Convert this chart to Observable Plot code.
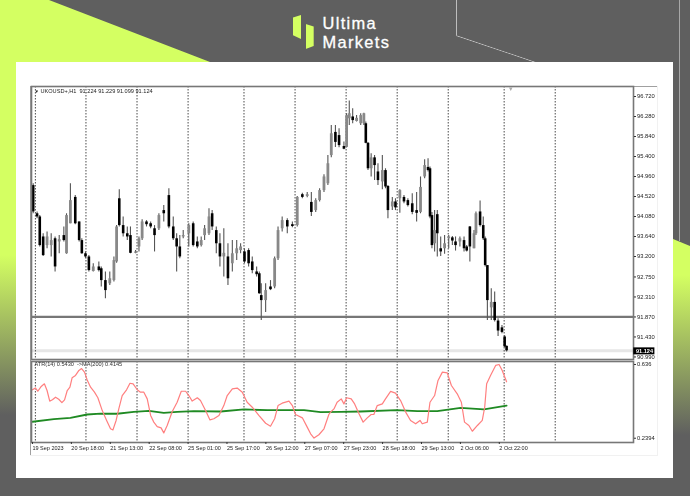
<!DOCTYPE html>
<html>
<head>
<meta charset="utf-8">
<script src="https://cdn.jsdelivr.net/npm/d3@7"></script>
<script src="https://cdn.jsdelivr.net/npm/@observablehq/plot@0.6"></script>
<style>
html,body{margin:0;padding:0;background:#5f5f5f;overflow:hidden}
#page{position:relative;width:690px;height:496px;overflow:hidden;background:#5f5f5f}
#page>div{position:absolute}
#leftLime{left:0;top:0;width:210px;height:496px;background:linear-gradient(to bottom,#d4ff62 0,#d4ff62 255px,#5f5f5f 415px);clip-path:polygon(0 0,49px 0,210px 62px,16px 62px,16px 496px,0 496px)}
#rightLime{left:673px;top:230px;width:17px;height:266px;background:linear-gradient(to bottom,#d4ff62 0,#d4ff62 45px,#5f5f5f 205px);clip-path:polygon(0 9px,17px 16px,17px 266px,0 266px)}
#card{left:16px;top:62px;width:657px;height:416px;background:#fff}
#lineV{left:455.5px;top:0;width:1px;height:35px;background:#bdbdbd}
#lineD{left:456px;top:35px;width:86px;height:1px;background:#c8c8c8;transform-origin:0 0;transform:rotate(18.6deg);clip-path:inset(0)}
#lineR{left:678.5px;top:0;width:1.5px;height:241px;background:#a8a8a8}
#logoA{left:293px;top:15px;width:8px;height:24px;background:#d4ff62;clip-path:polygon(0 10%,100% 0,100% 100%,0 84%)}
#logoB{left:305.7px;top:24px;width:8px;height:25px;background:#d4ff62;clip-path:polygon(0 0,100% 10%,100% 88%,0 100%)}
.brand{color:#fff;font-family:'Liberation Sans',Arial,sans-serif;font-size:16.4px;line-height:18.9px;letter-spacing:1.35px;-webkit-text-stroke:.3px #fff;left:322.5px;white-space:nowrap}
#brand1{top:14.2px}
#brand2{top:33.1px}
#outerTop{left:30px;top:86px;width:627px;height:1px;background:#a0a0a0}
#outerLeft{left:30px;top:86px;width:1px;height:369px;background:#a0a0a0}
#outerRight{left:657px;top:86px;width:1px;height:369px;background:#f1f1f1}
#outerBottom{left:30px;top:455px;width:628px;height:1px;background:#f1f1f1}
#plots{left:0;top:0;width:690px;height:496px;filter:blur(.5px)}
#plots svg{position:absolute;left:0;top:0;background:transparent;overflow:visible}
</style>
</head>
<body>
<div id="page">
<div id="leftLime"></div><div id="rightLime"></div><div id="lineV"></div><div id="lineD"></div><div id="lineR"></div><div id="card"></div>
<div id="logoA"></div><div id="logoB"></div>
<div class="brand" id="brand1">Ultima</div><div class="brand" id="brand2">Markets</div>
<div id="outerTop"></div><div id="outerLeft"></div><div id="outerRight"></div><div id="outerBottom"></div>
<div id="plots"></div>
</div>
<script>
const bars=[0.3,1.9,3.0,4.4,6.0,7.7,9.3,11.0,12.9,14.0,15.6,17.6,19.2,20.3,21.8,23.2,25.0,27.3,28.3,30.0,31.8,33.5,34.6,35.7,37.3,39.0,40.3,42.4,43.8,45.1,46.9,48.6,50.2,52.0,54.0,56.1,57.9,59.3,60.6,62.0,64.3,66.1,67.8,69.4,70.8,72.6,73.9,75.6,77.1,78.7,80.4,82.2,84.0,85.6,87.2,88.9,90.4,92.2,93.3,94.1,95.9,97.9,99.6,101.0,102.7,104.8,106.9,108.9,111.0,113.0,114.7,116.5,118.1,119.9,121.5,122.9,124.6,126.1,128.1,129.2,130.3,131.7,133.3,135.0,136.3,137.1,138.0,139.3,140.7,142.1,143.9,145.2,146.2,148.0,149.3,151.1,152.8,154.4,156.2,158.0,159.6,161.3,162.7,163.5,164.3,165.4,166.5,167.9,169.5,171.2,172.7,174.0,175.8,177.5,178.6,179.9,181.6,182.4,184.1,185.4,186.2,187.1,188.7,190.1,191.5,193.1,194.2,195.0];
const highs=[94.80,94.18,94.10,93.70,93.74,93.70,93.63,93.66,93.85,94.14,94.80,94.54,93.96,93.59,93.30,93.22,93.04,93.08,92.97,92.86,92.86,93.19,93.88,94.67,94.07,93.85,93.85,93.33,93.63,94.01,93.99,93.96,93.88,94.14,94.32,94.69,94.07,93.70,93.66,93.77,93.92,93.96,93.63,93.63,93.88,94.25,94.21,93.85,93.70,93.81,93.48,93.55,93.55,93.48,93.37,93.37,93.19,92.97,92.86,92.60,92.60,92.67,93.19,93.85,94.07,94.03,93.96,94.52,94.59,94.61,94.61,94.47,94.69,95.00,95.42,96.08,96.08,96.01,95.72,96.34,96.62,96.45,96.30,96.34,96.35,96.16,95.71,95.46,95.42,95.24,95.42,95.13,94.76,94.50,94.47,94.67,94.54,94.47,94.58,94.61,94.95,95.33,95.35,95.17,94.17,94.21,94.21,93.63,93.66,93.66,93.64,93.63,93.63,93.63,93.44,93.86,93.77,94.18,94.42,94.07,93.63,93.00,92.49,92.42,91.83,91.68,91.46,91.229];
const lows=[94.14,94.03,93.41,93.20,93.37,93.19,92.86,93.26,93.52,93.25,93.92,93.90,93.52,93.25,93.15,92.86,92.86,92.86,92.53,92.27,92.56,92.64,93.05,93.85,93.63,93.55,93.26,93.26,93.30,93.55,93.85,93.81,93.30,93.77,93.96,93.81,93.55,92.86,93.15,93.59,93.41,93.41,93.37,93.41,93.55,93.66,93.77,93.26,92.97,92.75,92.56,92.86,93.11,93.26,93.04,92.97,92.82,92.75,92.37,91.79,91.97,92.45,92.49,93.11,93.74,93.70,93.83,93.85,94.47,94.49,94.08,94.17,94.40,94.61,94.76,95.37,95.60,95.59,95.55,95.59,96.08,96.12,96.16,96.08,96.08,95.68,95.09,94.95,94.87,94.76,94.67,94.69,94.03,94.21,94.21,94.15,94.36,94.29,94.12,93.96,94.14,94.91,95.06,94.03,93.37,93.30,93.19,93.20,93.25,93.37,93.44,93.32,93.41,93.30,93.30,93.08,93.37,93.66,93.85,93.55,92.97,91.79,91.79,91.76,91.44,91.50,91.19,91.099];
const opens=[94.76,94.14,94.07,93.63,93.44,93.44,93.59,93.52,93.66,93.26,93.92,94.50,93.96,93.55,93.26,93.19,92.87,92.97,92.93,92.67,92.60,92.67,93.08,94.47,93.88,93.70,93.66,93.27,93.41,93.59,93.96,93.92,93.81,93.81,94.21,94.54,93.85,93.59,93.41,93.63,93.70,93.92,93.52,93.44,93.66,93.70,94.14,93.77,93.48,93.19,93.19,93.04,93.26,93.33,93.30,93.33,93.08,92.86,92.82,92.34,92.23,92.53,92.53,93.15,93.81,93.99,93.90,93.88,94.56,94.52,94.39,94.21,94.43,94.65,94.80,95.42,95.93,95.86,95.62,95.60,96.23,96.27,96.17,96.12,96.12,96.12,95.69,95.13,95.37,95.06,94.84,95.09,94.74,94.29,94.40,94.47,94.50,94.43,94.36,94.21,94.17,94.95,95.16,95.13,94.10,93.48,94.12,93.37,93.37,93.59,93.61,93.52,93.52,93.55,93.41,93.85,93.37,93.70,94.18,93.88,93.59,93.00,92.07,92.19,91.78,91.63,91.43,91.224];
const closes=[94.18,94.07,93.44,93.22,93.63,93.55,92.97,93.57,93.55,94.10,94.43,93.92,93.55,93.26,93.19,92.89,92.97,92.89,92.67,92.45,92.71,93.11,93.85,93.88,93.70,93.63,93.27,93.30,93.59,93.96,93.90,93.85,93.66,94.10,94.14,93.85,93.59,93.41,93.19,93.66,93.88,93.44,93.41,93.55,93.81,94.07,93.85,93.48,93.19,93.27,92.71,93.26,93.37,93.41,93.08,93.04,92.89,92.80,92.38,92.23,92.45,92.47,93.15,93.77,93.99,93.85,93.86,94.50,94.50,94.56,94.17,94.43,94.65,94.95,95.24,95.90,95.71,95.64,95.56,96.30,96.34,96.19,96.24,96.30,96.34,95.69,95.13,95.37,95.20,94.87,95.09,94.73,94.21,94.40,94.27,94.65,94.40,94.32,94.17,94.15,94.72,95.20,95.09,94.07,93.44,93.77,93.70,93.30,93.48,93.63,93.54,93.44,93.59,93.37,93.32,93.41,93.70,94.14,93.88,93.59,93.00,92.23,92.19,91.79,91.56,91.53,91.21,91.124];

const atrBars=[0,1.2,2.2,3.6,4.9,6.0,7.1,8.2,9.5,10.8,12.1,13.2,14.3,15.4,16.3,17.7,19.1,20.2,21.4,22.5,23.9,25.5,26.9,28.7,30.5,32.1,33.1,34.4,35.5,36.9,38.7,40.1,41.4,43.1,44.4,45.8,47.2,48.6,49.9,51.3,52.9,54.0,55.4,57.5,59.5,61.2,63.0,64.3,65.7,67.8,69.1,71.2,73.0,74.6,76.7,78.7,80.1,82.2,84.2,86.3,88.3,90.4,93.1,95.9,97.9,99.6,101.0,102.7,105.5,106.9,108.2,111.0,113.0,114.4,115.8,117.8,119.9,121.9,122.6,124.0,125.3,127.0,128.1,129.2,131.1,132.5,134.3,136.0,137.7,139.3,140.4,141.8,143.9,145.2,147.3,149.3,151.4,153.5,155.5,157.6,159.4,160.3,162.4,163.5,165.4,166.8,168.6,170.6,172.3,174.7,176.4,177.7,179.5,180.9,183.0,185.0,186.0,186.8,188.4,190.5,191.9,193.2,195.0];
const atrValues=[.500,.510,.492,.518,.532,.496,.439,.446,.460,.449,.431,.446,.496,.514,.564,.577,.604,.614,.595,.553,.514,.487,.457,.388,.335,.290,.284,.335,.397,.469,.500,.535,.532,.500,.487,.487,.451,.362,.326,.302,.295,.268,.308,.383,.433,.492,.492,.469,.439,.457,.442,.388,.338,.344,.362,.415,.469,.505,.509,.487,.433,.406,.362,.320,.304,.344,.415,.428,.439,.415,.367,.349,.299,.263,.240,.258,.290,.367,.380,.397,.433,.451,.424,.457,.451,.424,.371,.326,.349,.367,.367,.415,.424,.451,.491,.482,.442,.380,.335,.317,.335,.317,.326,.433,.469,.550,.595,.591,.523,.478,.433,.326,.308,.277,.308,.335,.406,.532,.577,.631,.636,.604,.543];
const maBars=[0,8.8,15.6,22.5,28.0,34.8,41.7,47.9,54.0,59.5,66.4,77.4,87.0,96.6,111.7,118.5,126.7,135.0,149.8,158.3,166.5,176.1,185.7,195.0];
const maValues=[.328,.342,.349,.367,.372,.371,.381,.387,.376,.381,.385,.383,.394,.390,.390,.380,.381,.383,.390,.385,.385,.403,.394,.4145];

const gridBars=[1.2,22,43,64,87,108,129,150,171,194,215];
const timeTicks=[0,16,32,48,64,80,96,112,128,144,160,176,192];
const timeLabels=["19 Sep 2023","20 Sep 18:00","21 Sep 13:00","22 Sep 08:00","25 Sep 01:00","25 Sep 17:00","26 Sep 12:00","27 Sep 07:00","27 Sep 23:00","28 Sep 18:00","29 Sep 13:00","2 Oct 06:00","2 Oct 22:00"];
const priceTicks=[96.72,96.28,95.84,95.40,94.96,94.52,94.08,93.64,93.20,92.75,92.31,91.87,91.43,90.99];
const atrTicks=[0.636,0.2394];
const levelLine=91.87, bidLine=91.124;
const titleTop="UKOUSD+,H1  91.224 91.229 91.099 91.124";
const titleAtr="ATR(14) 0.5430  ->MA(200) 0.4145";

const xDomain=[-0.4,247.2];
const font={fontFamily:"'Liberation Sans',Arial,sans-serif",fontSize:"5.8px",background:"transparent",color:"#333"};
const candles=bars.map((b,i)=>({b,h:highs[i],l:lows[i],o:opens[i],c:closes[i]}));
const up=candles.filter(d=>d.c>=d.o), down=candles.filter(d=>d.c<d.o);

const main=Plot.plot({
  width:690,height:360,marginLeft:31,marginRight:57,marginTop:86,marginBottom:1,
  style:font,
  x:{domain:xDomain,axis:null},
  y:{domain:[90.934,96.94],axis:null},
  marks:[
    Plot.ruleY([bidLine],{stroke:"#e6e6e6",strokeWidth:3}),
    Plot.ruleX(gridBars,{stroke:"#4a4a4a",strokeWidth:1,strokeDasharray:"1.5,1.5"}),
    Plot.ruleY([levelLine],{stroke:"#777",strokeWidth:2.2}),
    Plot.ruleX(candles,{x:"b",y1:"l",y2:"h",stroke:"#555",strokeWidth:1.1}),
    Plot.ruleX(up,{x:"b",y1:"o",y2:"c",stroke:"#888",strokeWidth:2.8}),
    Plot.ruleX(down,{x:"b",y1:"o",y2:"c",stroke:"#000",strokeWidth:2.6}),
    Plot.frame({stroke:"#777",strokeWidth:1.6}),
    Plot.axisY(priceTicks,{anchor:"right",tickSize:2,tickPadding:1.5,tickFormat:d=>d.toFixed(3),label:null,fill:"#222"}),
    Plot.ruleY([bidLine],{x1:247.3,x2:256,stroke:"#000",strokeWidth:7}),
    Plot.text([bidLine.toFixed(3)],{x:248.2,y:()=>bidLine,text:d=>d,textAnchor:"start",fill:"#fff",fontWeight:700,fontSize:5.6}),
    Plot.text([titleTop],{frameAnchor:"top-left",dx:9,dy:3,fill:"#222",fontSize:5.6}),
    Plot.text(["▼"],{frameAnchor:"top-left",dx:3,dy:3.5,fill:"#222",fontSize:4.5}),
    Plot.text(["▾"],{x:197,frameAnchor:"top",dy:0,fill:"#aaa",fontSize:7})
  ]
});

const lower=Plot.plot({
  width:690,height:496,marginLeft:31,marginRight:57,marginTop:361,marginBottom:54,
  style:font,
  x:{domain:xDomain,axis:null},
  y:{domain:[0.2164,0.652],axis:null},
  marks:[
    Plot.ruleX(gridBars,{stroke:"#4a4a4a",strokeWidth:1,strokeDasharray:"1.5,1.5"}),
    Plot.line(maBars.map((b,i)=>({b,v:maValues[i]})),{x:"b",y:"v",stroke:"#1f8a23",strokeWidth:1.8}),
    Plot.line(atrBars.map((b,i)=>({b,v:atrValues[i]})),{x:"b",y:"v",stroke:"#ff7f7f",strokeWidth:1.2}),
    Plot.frame({stroke:"#777",strokeWidth:1.6}),
    Plot.axisY(atrTicks,{anchor:"right",tickSize:2,tickPadding:1.5,tickFormat:d=>String(d),label:null,fill:"#222"}),
    Plot.axisX(timeTicks,{anchor:"bottom",tickSize:2,tickPadding:1.5,tickFormat:(d,i)=>timeLabels[i],label:null,textAnchor:"start",fontSize:5.5,fill:"#222"}),
    Plot.text([titleAtr],{frameAnchor:"top-left",dx:3,dy:1,fill:"#333",fontSize:5.6})
  ]
});

document.getElementById("plots").append(main,lower);
</script>
</body>
</html>
